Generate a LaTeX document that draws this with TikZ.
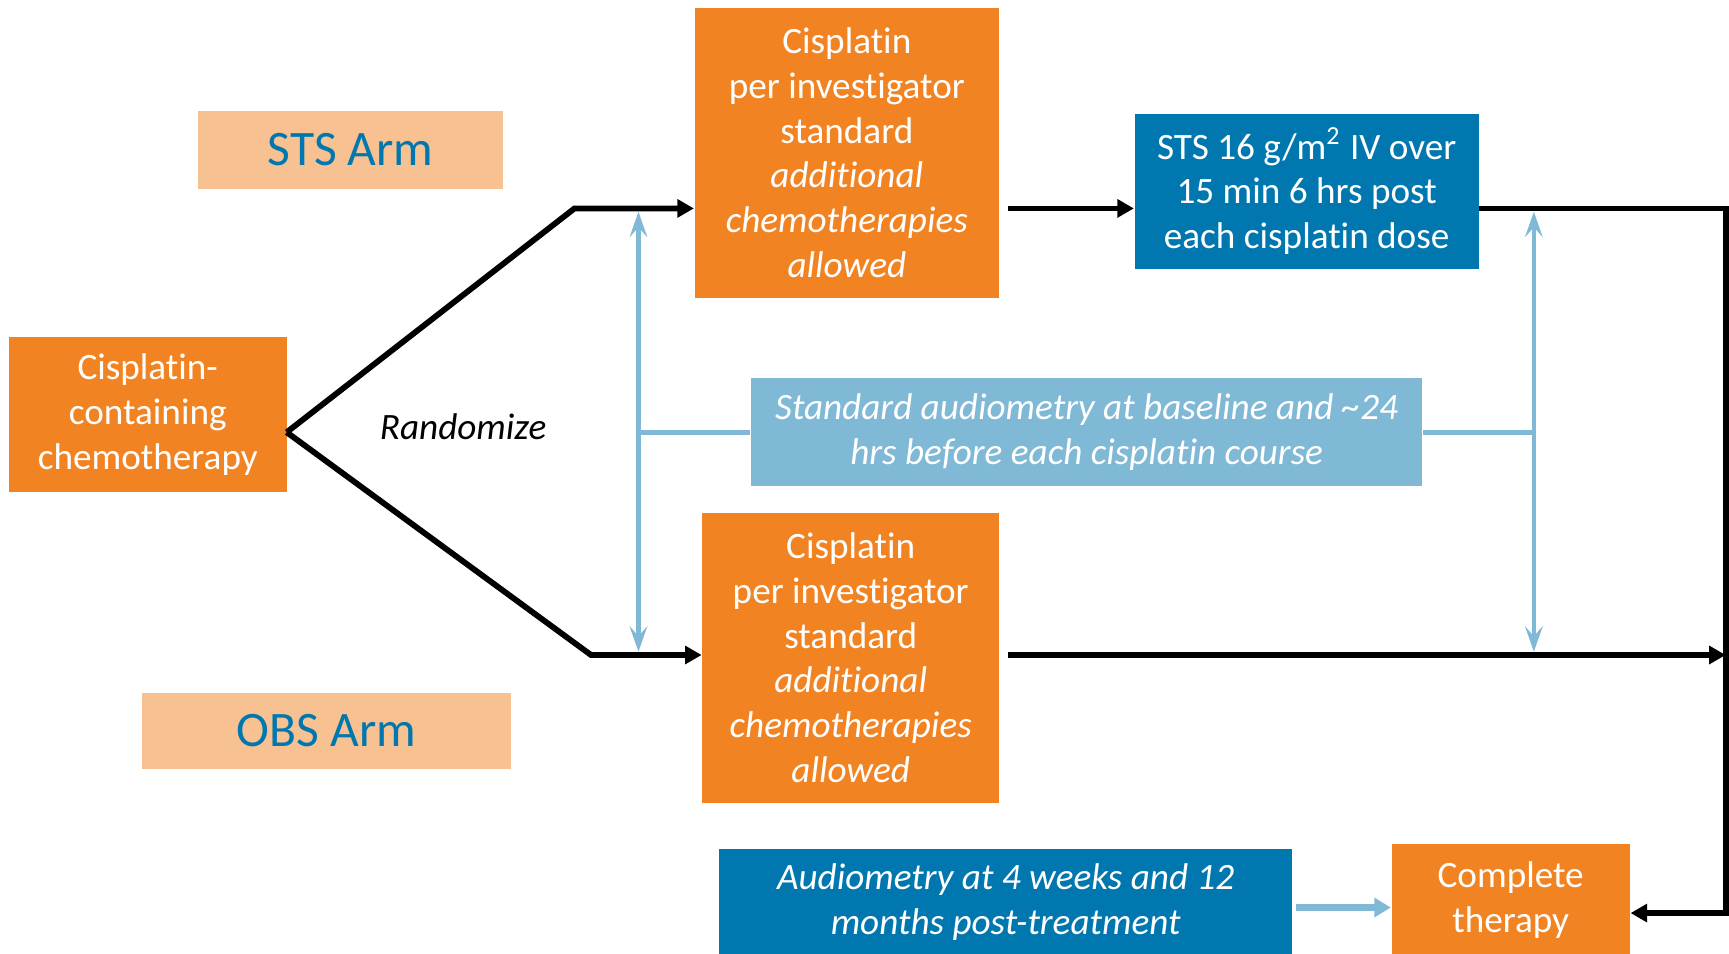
\documentclass[tikz,border=0pt]{standalone}
\usepackage{fontspec}
\setmainfont[Ligatures=NoCommon]{Carlito}
\usetikzlibrary{arrows.meta}
\definecolor{cisorange}{HTML}{F28322}
\definecolor{armpeach}{HTML}{F8C191}
\definecolor{stsblue}{HTML}{0077AF}
\definecolor{audblue}{HTML}{80B9D5}

\begin{document}
\begin{tikzpicture}[
  box/.style={fill=#1, text=white, align=center, inner sep=0pt,
    font=\fontsize{9.6}{11.55}\selectfont},
  ital/.style={font=\fontsize{9.6}{11.55}\selectfont\itshape},
  armbox/.style={fill=armpeach, text=stsblue, inner sep=0pt,
    font=\fontsize{12.8}{15}\selectfont},
  flow/.style={line width=1.5pt, -{Triangle[length=1.5mm,width=1.6mm]}},
  check/.style={draw=audblue, line width=1.2pt,
    {Stealth[length=2.3mm,width=1.6mm,inset=0.9mm]}-{Stealth[length=2.3mm,width=1.6mm,inset=0.9mm]}},
  followup/.style={draw=audblue, line width=1.8pt,
    -{Triangle[length=1.5mm,width=1.7mm]}}
]
		\useasboundingbox (0,0) rectangle (15.68,-8.65);
		
		% Boxes
		\node[box=cisorange, minimum width=2.52cm, minimum height=1.40cm] (start) at (1.34,-3.76)
			{Cisplatin-\\containing\\chemotherapy};
		\node[box=cisorange, minimum width=2.76cm, minimum height=2.63cm] (cisA) at (7.68,-1.385)
			{Cisplatin\\per investigator\\standard\\\textit{additional}\\\textit{chemotherapies}\\\textit{allowed}};
		\node[box=cisorange, minimum width=2.69cm, minimum height=2.63cm] (cisB) at (7.715,-5.965)
			{Cisplatin\\per investigator\\standard\\\textit{additional}\\\textit{chemotherapies}\\\textit{allowed}};
		\node[box=stsblue, minimum width=3.12cm, minimum height=1.41cm] (sts) at (11.85,-1.735)
			{STS 16 g/m\textsuperscript{2} IV over\\15 min 6 hrs post\\each cisplatin dose};
		\node[box=audblue, ital, minimum width=6.09cm, minimum height=0.98cm] (audbase) at (9.855,-3.92)
			{Standard audiometry at baseline and \textasciitilde 24\\hrs before each cisplatin course};
		\node[box=stsblue, ital, minimum width=5.20cm, minimum height=0.96cm] (audpost) at (9.12,-8.18)
			{Audiometry at 4 weeks and 12\\months post-treatment};
		\node[box=cisorange, minimum width=2.16cm, minimum height=1.01cm] (done) at (13.70,-8.16)
			{Complete\\therapy};
		
		% Arm labels
		\node[armbox, minimum width=2.76cm, minimum height=0.70cm] (stsarm) at (3.18,-1.36) {STS Arm};
		\node[armbox, minimum width=3.34cm, minimum height=0.69cm] (obsarm) at (2.96,-6.625) {OBS Arm};
		\node[font=\fontsize{9.6}{11.55}\selectfont\itshape] (rand) at (4.20,-3.87) {Randomize};
		
		% Bends
		\coordinate (fork) at (2.60,-3.92);
		\coordinate (upbend) at (5.21,-1.89);
		\coordinate (lowbend) at (5.36,-5.94);
		\coordinate (railtop) at (15.65,-1.89);
		\coordinate (railbot) at (15.65,-8.28);
		\coordinate (tapL) at (5.79,-3.92);
		\coordinate (tapR) at (13.91,-3.92);
		
		% Treatment arrows
		\draw[flow] (fork) -- (upbend) -- (upbend -| cisA.west);
		\draw[flow] (fork) -- (lowbend) -- (lowbend -| cisB.west);
		\draw[flow] ([xshift=0.7mm]upbend -| cisA.east) -- (upbend -| sts.west);
		\draw[flow] (upbend -| sts.east) -- (railtop) -- (railbot) -- (railbot -| done.east);
		\draw[flow] ([xshift=0.7mm]lowbend -| cisB.east) -- (lowbend -| railtop);
		
		% Audiometry links
		\draw[check, shorten <=0.3mm, shorten >=0.3mm] (tapL |- upbend) -- (tapL |- lowbend);
		\draw[check, shorten <=0.3mm, shorten >=0.3mm] (tapR |- upbend) -- (tapR |- lowbend);
		\draw[draw=audblue, line width=1.2pt] (tapL) -- (audbase.west);
		\draw[draw=audblue, line width=1.2pt] (audbase.east) -- (tapR);
		\draw[followup] ([xshift=0.3mm,yshift=-0.5mm]audpost.east) -- ([yshift=-0.5mm]audpost.east -| done.west);
\end{tikzpicture}
\end{document}
